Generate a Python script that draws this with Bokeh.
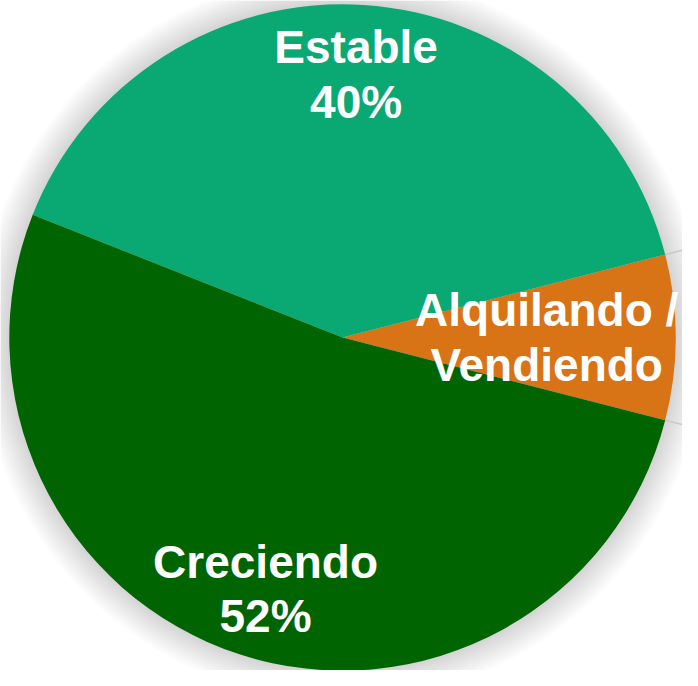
import numpy as np
from bokeh.plotting import figure
from bokeh.models import Range1d, ColumnDataSource
from bokeh.core.properties import value
from bokeh.embed import file_html
from bokeh.resources import INLINE

# ---- data ----
categories = ["Alquilando / Vendiendo", "Estable", "Creciendo"]
shares = [8, 40, 52]
label_texts = ["Alquilando /\nVendiendo", "Estable\n40%", "Creciendo\n52%"]
colors = ["#D87316", "#0AA873", "#006400"]

# ---- layout / style ----
W, H = 682, 670
cx, cy, R = 350, 341, 341
start_offset = -np.deg2rad(14.4)
label_r = [209, 270, 271]
label_dx = [0, -3, 5]

frac = np.array(shares, dtype=float) / sum(shares)
ends = start_offset + np.cumsum(frac) * 2 * np.pi
starts = ends - frac * 2 * np.pi
mids = (starts + ends) / 2

p = figure(width=W, height=H, output_backend="svg", toolbar_location=None,
           x_range=Range1d(0, 698), y_range=Range1d(0, 686),
           min_border=0, outline_line_color=None)
p.axis.visible = False
p.grid.visible = False
p.background_fill_color = "white"
p.border_fill_color = "white"

# soft shadow
for i in range(14, 0, -1):
    p.circle(x=[cx], y=[cy], radius=R + 2.2 * i, fill_color="black",
             fill_alpha=0.012, line_color=None)

# leader-like lines continuing the small slice's edges
for a in [starts[0], ends[0]]:
    p.line(x=[cx + R * np.cos(a), cx + (R + 40) * np.cos(a)],
           y=[cy + R * np.sin(a), cy + (R + 40) * np.sin(a)],
           line_color="#C8C8C8", line_width=1.5)

src = ColumnDataSource(dict(cat=categories, start=starts, end=ends, color=colors))
p.wedge(x=cx, y=cy, radius=R, start_angle="start", end_angle="end",
        fill_color="color", line_color=None, source=src)

lsrc = ColumnDataSource(dict(
    x=[cx + r * np.cos(m) + d for r, m, d in zip(label_r, mids, label_dx)],
    y=[cy + r * np.sin(m) for r, m in zip(label_r, mids)],
    t=label_texts))
p.text(x="x", y="y", text="t", source=lsrc, text_color="white",
       text_font=value("Liberation Sans"), text_font_style="bold",
       text_font_size="46px", text_align="center", text_baseline="middle",
       text_line_height=1.05)

open("out.html", "w").write(file_html(p, INLINE))
